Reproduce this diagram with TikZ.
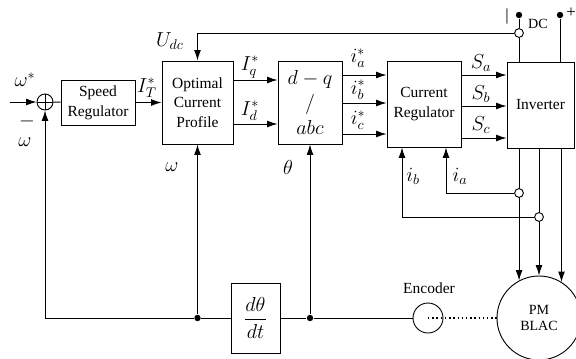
\documentclass[tikz,border=0pt]{standalone}
\usepackage{amsmath}
\usepackage{fontspec}
\setmainfont{Liberation Serif}
\usetikzlibrary{arrows.meta}

\begin{document}
\begin{tikzpicture}[x=0.25mm,y=-0.25mm,line width=0.65pt,
  >={Latex[length=2.6mm,width=1.7mm]},
  blk/.style={draw,align=center,inner sep=1pt,font=\fontsize{11}{14}\selectfont},
  lbl/.style={inner sep=0pt,font=\Large},
  jdot/.style={circle,fill,inner sep=0pt,minimum size=1.6mm},
  odot/.style={circle,draw,fill=white,inner sep=0pt,minimum size=2.2mm}]

\useasboundingbox (0,0) rectangle (576,358);

% Blocks
\node[circle,draw,minimum size=4mm,inner sep=0pt] (sum) at (45,102) {};
\draw (sum.north) -- (sum.south) (sum.west) -- (sum.east);
\node[blk,minimum width=18.5mm,minimum height=11.25mm] (sr) at (98,102.5) {Speed\\Regulator};
\node[blk,minimum width=17.75mm,minimum height=20.75mm] (ocp) at (197.5,102.5) {Optimal\\Current\\Profile};
\node[blk,minimum width=16mm,minimum height=20.75mm,font=\Large] (dq) at (310,102.5) {$d-q$\\$/$\\$abc$};
\node[blk,minimum width=18.5mm,minimum height=21.5mm] (cr) at (424,104) {Current\\Regulator};
\node[blk,minimum width=16.75mm,minimum height=21.5mm] (inv) at (540.5,105) {Inverter};
\node[blk,minimum width=12.25mm,minimum height=17.5mm,font=\Large] (ddt) at (255.5,318) {$\dfrac{d\theta}{dt}$};
\node[circle,draw,minimum size=7.5mm,inner sep=0pt] (enc) at (428,318) {};
\node[circle,draw,minimum size=21mm,align=center,inner sep=0pt] (mot) at (539,318) {PM\\BLAC};

% Levels of the signal lines
\coordinate (yq) at (0,80);
\coordinate (yd) at (0,124);
\coordinate (ya) at (0,75);
\coordinate (yb) at (0,103);
\coordinate (yc) at (0,134);
\coordinate (ysb) at (0,106);
\coordinate (ysc) at (0,138);

% Speed loop
\coordinate (wref) at (10,102);
\draw[->] (wref) -- (sum);
\draw (sum) -- (sr);
\draw[->] (sr) -- (ocp);

% Current references
\draw[->] (ocp.east |- yq) -- (dq.west |- yq);
\draw[->] (ocp.east |- yd) -- (dq.west |- yd);
\draw[->] (dq.east |- ya) -- (cr.west |- ya);
\draw[->] (dq.east |- yb) -- (cr.west |- yb);
\draw[->] (dq.east |- yc) -- (cr.west |- yc);

% Switching signals
\draw[->] (cr.east |- ya) -- (inv.west |- ya);
\draw[->] (cr.east |- ysb) -- (inv.west |- ysb);
\draw[->] (cr.east |- ysc) -- (inv.west |- ysc);

% DC link
\node[odot] (dcm) at (519,33) {};
\node[jdot] (dcn) at (519,15) {};
\node[jdot] (dcp) at (560,15) {};
\draw[->] (dcm) -| (ocp.north);
\draw (dcn) -- (dcm) -- (dcm |- inv.north);
\draw (dcp) -- (dcp |- inv.north);

% Inverter to motor
\draw[->] (inv.south -| mot.118) -- (mot.118);
\draw[->] (inv.south -| mot.90) -- (mot.90);
\draw[->] (inv.south -| mot.58) -- (mot.58);

% Current sensing
\node[odot] (sna) at (519,193) {};
\node[odot] (snb) at (539,217) {};
\coordinate (xia) at (446,0);
\coordinate (xib) at (402,0);
\draw[->] (sna) -| (xia |- cr.south);
\draw[->] (snb) -| (xib |- cr.south);

% Position and speed feedback
\node[jdot] (wd) at (197.5,318) {};
\node[jdot] (thd) at (310,318) {};
\coordinate (fb) at (45,318);
\draw (enc) -- (thd) -- (ddt);
\draw (ddt) -- (wd) -- (fb);
\draw[->] (fb) -- (sum);
\draw[->] (wd) -- (ocp);
\draw[->] (thd) -- (dq);
\draw[dotted,line width=1pt] (enc.center) -- (mot);

% Labels
\node[lbl] (lwr) at (25,80) {$\omega^*$};
\node[lbl] (lmin) at (27,121) {$-$};
\node[lbl] (lwfb) at (25,142) {$\omega$};
\node[lbl] (lit) at (147,88) {$I_T^*$};
\node[lbl] (ludc) at (170,41) {$U_{dc}$};
\node[lbl] (liq) at (250,67) {$I_q^*$};
\node[lbl] (lid) at (250,111) {$I_d^*$};
\node[lbl] (lia) at (358,58) {$i_a^*$};
\node[lbl] (lib) at (358,90) {$i_b^*$};
\node[lbl] (lic) at (358,120) {$i_c^*$};
\node[lbl] (lsa) at (481,63) {$S_a$};
\node[lbl] (lsb) at (481,94) {$S_b$};
\node[lbl] (lsc) at (481,125) {$S_c$};
\node[lbl] (lw) at (172,167) {$\omega$};
\node[lbl] (lth) at (288,167) {$\theta$};
\node[lbl] (lfib) at (413,176) {$i_b$};
\node[lbl] (lfia) at (460,176) {$i_a$};
\node[font=\fontsize{11}{13}\selectfont] (lenc) at (429,288) {Encoder};
\node (ldc) at (538,24) {DC};
\node[font=\large] (lbar) at (507,16) {|};
\node[font=\large] (lplus) at (571,13) {+};

\end{tikzpicture}
\end{document}
